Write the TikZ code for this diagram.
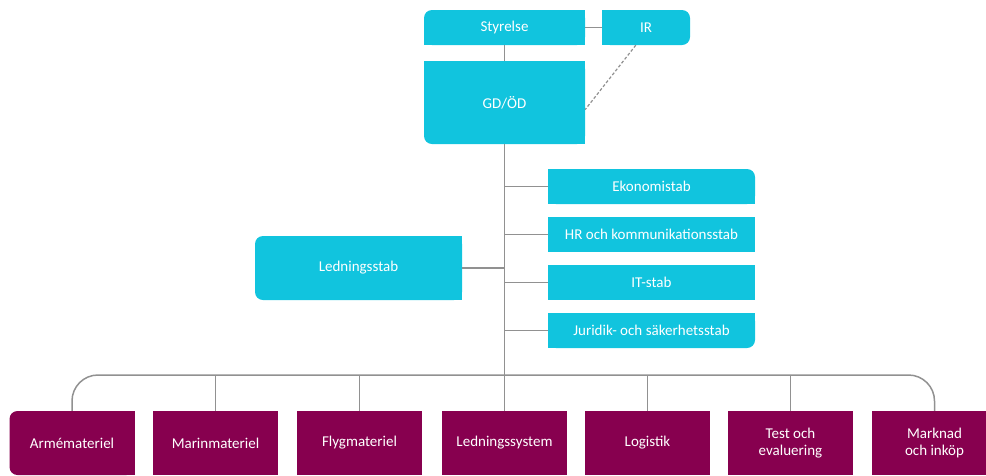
\documentclass[tikz,border=0pt]{standalone}
\usepackage{fontspec}
\setmainfont{Carlito}
\usetikzlibrary{backgrounds}
\definecolor{cyanbox}{RGB}{17,196,222}
\definecolor{purplebox}{RGB}{135,0,79}
\definecolor{linegray}{RGB}{145,145,145}

\begin{document}
\begin{tikzpicture}[
            x = 1pt, y = -1pt,
            every node/.style={text=white, font=\fontsize{15}{17}\selectfont, align=center, inner sep=0pt},
            cbox/.style={fill=cyanbox, rounded corners=8pt, minimum height=35pt},
            pbox/.style={fill=purplebox, rounded corners=8pt, minimum width=125pt, minimum height=64pt},
            line/.style={draw=linegray, line width=1.5pt},
            ]
        \clip (0,0) rectangle (986,475);

        \node[cbox, minimum width=161pt] (sty) at (504.5, 27.5) {Styrelse};
        \node[cbox, minimum width=88pt] (ir) at (646, 27.5) {IR};
        \node[cbox, minimum width=161pt, minimum height=83pt] (gd) at (504.5, 102.5) {GD/ÖD};
        \node[cbox, minimum width=207pt] (eko) at (651.5, 186.5) {Ekonomistab};
        \node[cbox, sharp corners, minimum width=207pt] (hr) at (651.5, 234.5) {HR och kommunikationsstab};
        \node[cbox, sharp corners, minimum width=207pt] (it) at (651.5, 282.5) {IT-stab};
        \node[cbox, minimum width=207pt] (jur) at (651.5, 330.5) {Juridik- och säkerhetsstab};
        \node[cbox, minimum width=207pt, minimum height=64pt] (led) at (358.5, 268) {Ledningsstab};

        \node[pbox] (a1) at (72, 443) {Armémateriel};
        \node[pbox, sharp corners] (a2) at (215.5, 443) {Marinmateriel};
        \node[pbox, sharp corners] (a3) at (359.5, 443) {Flygmateriel};
        \node[pbox, sharp corners] (a4) at (504.5, 443) {Ledningssystem};
        \node[pbox, sharp corners] (a5) at (647.5, 443) {Logistik};
        \node[pbox, sharp corners] (a6) at (790.5, 443) {Test och\\evaluering};
        \node[pbox, sharp corners] (a7) at (934.5, 443) {Marknad\\och inköp};
        \coordinate (bus) at (504.5, 375);

        % square corners
        \begin{scope}[on background layer]
            \foreach \n/\a in {sty/north east, sty/south east, sty/south west,
                               ir/north west, ir/south west,
                               gd/north west, gd/north east, gd/south east,
                               eko/north west, eko/south west, eko/south east,
                               jur/north west, jur/north east, jur/south west,
                               led/north east, led/south east}
                \fill[cyanbox] (\n.center) rectangle (\n.\a);
            \foreach \a in {north east, south east}
                \fill[purplebox] (a1.center) rectangle (a1.\a);
        \end{scope}

        \draw[line] (sty.east) -- (ir.west);
        \draw[line] (sty.south) -- (gd.north);
        \draw[line, dashed, line width=1.2pt, dash pattern=on 3pt off 2pt] (ir.-120) -- (gd.-5);
        \draw[line] (gd.south) -- (bus);
        \foreach \n in {eko, hr, it, jur}
            \draw[line] (\n.west) -- (\n.west -| gd.south);
        \draw[line] (led.east) -- (led.east -| gd.south);
        \draw[line, rounded corners=26pt] (a1.north) |- (bus) -| (a7.north);
        \foreach \i in {2,...,6}
            \draw[line] (a\i.north) -- (a\i.north |- bus);
    \end{tikzpicture}
\end{document}
